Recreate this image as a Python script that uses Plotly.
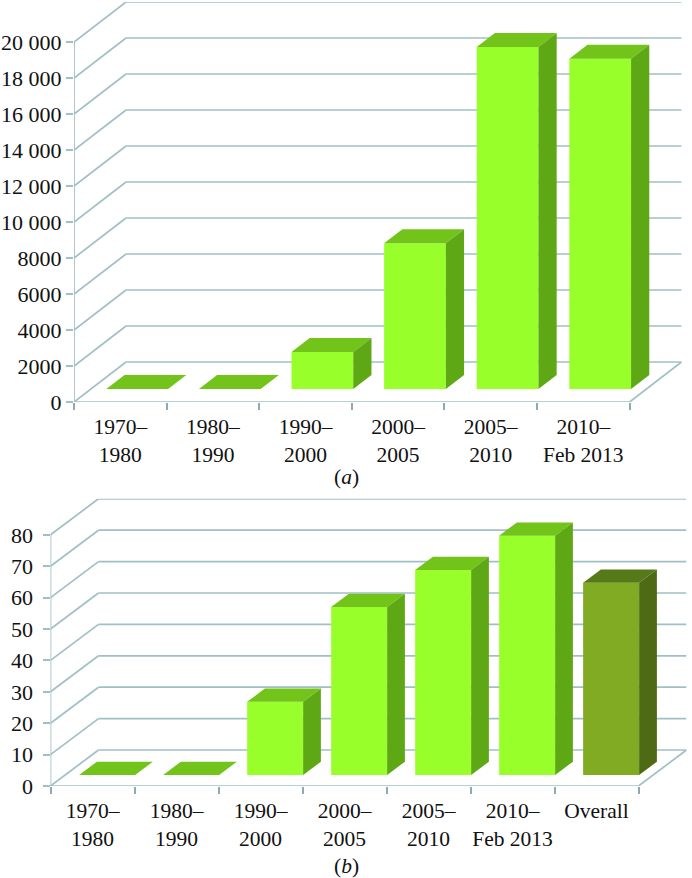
import plotly.graph_objects as go

W, H = 692, 878
SERIF = "Liberation Serif, Times New Roman, serif"
GRID = "#a0bfc6"
TEXT = "#111111"

# ---- data ----
periods_a = ["1970–<br>1980", "1980–<br>1990", "1990–<br>2000", "2000–<br>2005",
             "2005–<br>2010", "2010–<br>Feb 2013"]
values_a = [0, 0, 2050, 8100, 19000, 18350]
ticks_a = [0, 2000, 4000, 6000, 8000, 10000, 12000, 14000, 16000, 18000, 20000]
ticktext_a = ["0", "2000", "4000", "6000", "8000", "10 000", "12 000", "14 000",
              "16 000", "18 000", "20 000"]

periods_b = ["1970–<br>1980", "1980–<br>1990", "1990–<br>2000", "2000–<br>2005",
             "2005–<br>2010", "2010–<br>Feb 2013", "Overall"]
values_b = [0, 0, 23.3, 53.5, 65.3, 76.2, 61.2]
ticks_b = [0, 10, 20, 30, 40, 50, 60, 70, 80]
ticktext_b = [str(t) for t in ticks_b]

GREEN = ("#99ff2b", "#5fa815", "#72c31a")
OLIVE = ("#80ab22", "#4e6a14", "#567a18")


def panel(fig, xa, ya, values, ticks, colors, dx, dy, d0, d1):
    """Pseudo-3D column panel: wall depth (dx, dy) is in axis units, d0-d1 is the column's depth span."""
    n = len(values)
    xname, yname = "x" + xa, "y" + ya
    shapes = []

    def seg(x0, y0, x1, y1):
        shapes.append(dict(type="line", xref=xname, yref=yname, x0=x0, y0=y0, x1=x1, y1=y1,
                           layer="below", line=dict(color=GRID, width=1.7)))

    for t in ticks:
        seg(0, t, dx, t + dy)
        seg(dx, t + dy, n + dx, t + dy)
    seg(0, 0, 0, ticks[-1])
    seg(0, 0, n, 0)
    seg(n, 0, n + dx, dy)

    bw = 2 / 3
    ox0, oy0 = d0 * dx, d0 * dy
    ox1, oy1 = d1 * dx, d1 * dy
    for i, v in enumerate(values):
        front, side, top = colors[i]
        left = i + (1 - bw) / 2 + ox0
        right = left + bw
        shift_x, shift_y = ox1 - ox0, oy1 - oy0
        fig.add_trace(go.Bar(x=[left + bw / 2], y=[v], base=[oy0], width=[bw],
                             marker=dict(color=front, line=dict(width=0)),
                             xaxis=xname, yaxis=yname, hoverinfo="skip"))
        fig.add_trace(go.Scatter(
            x=[left, right, right + shift_x, left + shift_x, left],
            y=[oy0 + v, oy0 + v, oy0 + v + shift_y, oy0 + v + shift_y, oy0 + v],
            fill="toself", fillcolor=top, mode="none",
            xaxis=xname, yaxis=yname, hoverinfo="skip"))
        if v > 0:
            fig.add_trace(go.Scatter(
                x=[right, right + shift_x, right + shift_x, right, right],
                y=[oy0, oy0 + shift_y, oy0 + v + shift_y, oy0 + v, oy0],
                fill="toself", fillcolor=side, mode="none",
                xaxis=xname, yaxis=yname, hoverinfo="skip"))
    return shapes, n


fig = go.Figure()

# panel (a): wall depth is 52 px / 40 px on scales of 92.6 px per category, 18 px per 1000
dx_a, dy_a = 52 / 92.6, 40 / 18 * 1000
shapes_a, n_a = panel(fig, "", "", values_a, ticks_a, [GREEN] * 6, dx_a, dy_a, 0.325, 0.675)
# panel (b): 48 px / 36 px on scales of 84 px per category, 3.14 px per unit
dx_b, dy_b = 48 / 84, 36 / 3.14
shapes_b, n_b = panel(fig, "2", "2", values_b, ticks_b, [GREEN] * 6 + [OLIVE], dx_b, dy_b, 0.305, 0.675)


def xaxis(n, dx, labels, left, cat, standoff_len):
    return dict(
        automargin=False,
        domain=[left / W, (left + (n + dx) * cat) / W],
        range=[0, n + dx], showgrid=False, zeroline=False, showline=False, fixedrange=True,
        tickmode="array", tickvals=[i + 0.5 for i in range(n)], ticktext=labels, tickangle=0,
        ticks="outside", ticklen=standoff_len, tickwidth=1, tickcolor="rgba(0,0,0,0)",
        tickfont=dict(family=SERIF, size=21.5, color=TEXT),
        minor=dict(tickmode="array", tickvals=list(range(n + 1)), ticks="outside",
                   ticklen=7, tickwidth=1.5, tickcolor="#8fa9b2"),
    )


def yaxis(top_value, ticks, ticktext, bottom_px, top_px, size, anchor, standoff):
    return dict(
        automargin=False,
        domain=[(H - bottom_px) / H, (H - top_px) / H],
        range=[0, top_value], showgrid=False, zeroline=False, showline=False, fixedrange=True,
        tickmode="array", tickvals=ticks, ticktext=ticktext,
        ticks="outside", ticklen=7, tickwidth=1.5, tickcolor=GRID, ticklabelstandoff=standoff,
        tickfont=dict(family=SERIF, size=size, color=TEXT), anchor=anchor,
    )


fig.update_layout(
    width=W, height=H, margin=dict(l=0, r=0, t=0, b=0),
    paper_bgcolor="white", plot_bgcolor="rgba(0,0,0,0)",
    showlegend=False, barmode="overlay",
    shapes=shapes_a + shapes_b,
    xaxis=dict(xaxis(n_a, dx_a, periods_a, 74, 92.6, 5), anchor="y"),
    yaxis=yaxis(20000 + dy_a, ticks_a, ticktext_a, 402, 2, 22, "x", 0),
    xaxis2=dict(xaxis(n_b, dx_b, periods_b, 50.5, 84, 5), anchor="y2"),
    yaxis2=yaxis(80 + dy_b, ticks_b, ticktext_b, 786, 498.8, 22, "x2", 5),
    annotations=[
        dict(text="(<i>a</i>)", x=346 / W, y=(H - 477) / H, xref="paper", yref="paper",
             yanchor="middle", showarrow=False, font=dict(family=SERIF, size=21.5, color=TEXT)),
        dict(text="(<i>b</i>)", x=346 / W, y=(H - 866) / H, xref="paper", yref="paper",
             yanchor="middle", showarrow=False, font=dict(family=SERIF, size=21.5, color=TEXT)),
    ],
)

fig.write_html("out.html", config={"displayModeBar": False},
               post_script="document.body.style.margin='0';document.documentElement.style.overflow='hidden';")
